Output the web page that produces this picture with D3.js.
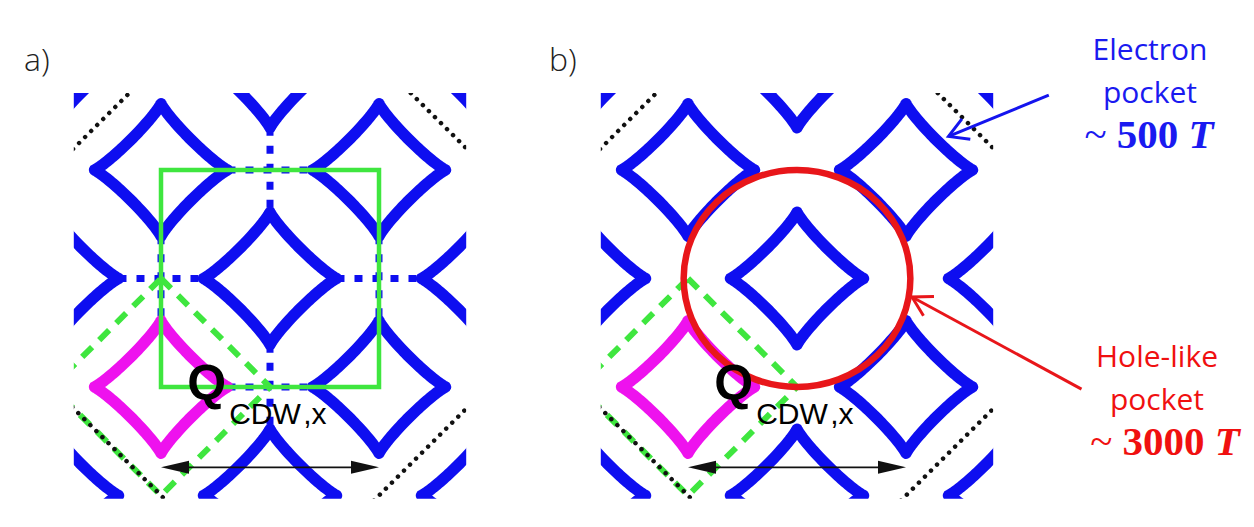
<!DOCTYPE html>
<html><head><meta charset="utf-8">
<script src="https://cdn.jsdelivr.net/npm/d3@7"></script>
<style>body{margin:0;background:#fff}svg{display:block}</style>
</head><body>
<svg id="c" width="1254" height="527"></svg>
<script>
// ---------- data (lattice units: pocket centres on integer sites with u+v even) ----------
const pocketCenters = [[-2,-2],[0,-2],[2,-2],[-1,-1],[1,-1],[-2,0],[0,0],[2,0],[-1,1],[1,1],[-2,2],[0,2],[2,2]];
const highlightedPocket = [-1,1];
const pocketHalfDiagonal = 0.61;
const pocketExponent = 0.88;
const zoneLinks = [[[0,-2],[0,0]],[[0,0],[0,2]],[[-2,0],[0,0]],[[0,0],[2,0]],
                   [[-1,-1],[1,-1]],[[-1,1],[1,1]],[[-1,-1],[-1,1]],[[1,-1],[1,1]]];
const reducedZone = [[-1,-1],[1,1]];
const bzBoundary = [[3,0],[0,3],[-3,0],[0,-3]];
const foldedZone = [[-1,0],[0,1],[-1,2],[-2,1]];
const qVector = {from:-1, to:1, at:1.74};
const holeRadius = [1.04, 1.0];
const viewU = [-1.80, 1.80];
const viewV = [-1.71, 2.03];
const panelLabels = ["a)", "b)"];
const electronLabel = ["Electron", "pocket", "500"];
const holeLabel = ["Hole-like", "pocket", "3000"];
const electronArrow = [[2.31,-1.69],[1.39,-1.31]];
const holeArrow = [[2.61,1.02],[1.055,0.17]];

// ---------- styles ----------
const BLUE = "#0e0ef0", MAGENTA = "#ee12ee", GREEN = "#3fe63f", RED = "#e8161a";
const svg = d3.select("#c");
svg.append("rect").attr("width",1254).attr("height",527).attr("fill","#fff");
const defs = svg.append("defs");

const panels = [
  {label: panelLabels[0], xr:[161,379], labelX:24, square:true, circle:false},
  {label: panelLabels[1], xr:[688,906], labelX:549, square:false, circle:true}
];
const yRange = [170,387];

panels.forEach((p, i) => {
  const xs = d3.scaleLinear().domain([-1,1]).range(p.xr);
  const ys = d3.scaleLinear().domain([-1,1]).range(yRange);
  p.xs = xs; p.ys = ys;
  const clipId = "clip" + i;
  defs.append("clipPath").attr("id", clipId).append("rect")
    .attr("x", xs(viewU[0])).attr("y", ys(viewV[0]))
    .attr("width", xs(viewU[1]) - xs(viewU[0])).attr("height", ys(viewV[1]) - ys(viewV[0]));

  svg.append("text").attr("x", p.labelX).attr("y", 71)
    .attr("font-family", "'Open Sans', sans-serif").attr("font-weight", 300)
    .attr("font-size", 32).attr("fill", "#222").text(p.label);

  const g = svg.append("g").attr("clip-path", `url(#${clipId})`);
  const line = d3.line().x(d => xs(d[0])).y(d => ys(d[1]));

  // blue dotted zone links (panel a only)
  if (p.square) {
    zoneLinks.forEach(([a, b]) => {
      const du = Math.sign(b[0]-a[0]), dv = Math.sign(b[1]-a[1]);
      const r = pocketHalfDiagonal;
      g.append("path")
        .attr("d", line([[a[0]+du*r, a[1]+dv*r],[b[0]-du*r, b[1]-dv*r]]))
        .attr("stroke", BLUE).attr("stroke-width", 7).attr("fill","none")
        .attr("stroke-dasharray", "8,10");
    });
  }

  // pockets
  const e = 2 / pocketExponent;
  const pocketPath = (cu, cv) => {
    const pts = d3.range(0, 360, 1.5).map(deg => {
      const t = deg * Math.PI / 180, c = Math.cos(t), s = Math.sin(t);
      return [cu + pocketHalfDiagonal * Math.sign(c) * Math.pow(Math.abs(c), e),
              cv + pocketHalfDiagonal * Math.sign(s) * Math.pow(Math.abs(s), e)];
    });
    return d3.line().x(d => xs(d[0])).y(d => ys(d[1])).curve(d3.curveLinearClosed)(pts);
  };
  pocketCenters.forEach(([cu, cv]) => {
    const hl = cu === highlightedPocket[0] && cv === highlightedPocket[1];
    g.append("path").attr("d", pocketPath(cu, cv))
      .attr("fill", "none").attr("stroke", hl ? MAGENTA : BLUE)
      .attr("stroke-width", 11.5).attr("stroke-linejoin", "round");
  });

  // green dashed folded zone
  g.append("path").attr("d", line(foldedZone) + "Z")
    .attr("fill","none").attr("stroke", GREEN).attr("stroke-width", 6)
    .attr("stroke-dasharray", "14,10");

  // black dotted BZ boundary
  g.append("path").attr("d", line(bzBoundary) + "Z")
    .attr("fill","none").attr("stroke", "#111").attr("stroke-width", 4.5)
    .attr("stroke-linecap","round").attr("stroke-dasharray", "0.01,8.5");

  // green square
  if (p.square) {
    g.append("rect")
      .attr("x", xs(reducedZone[0][0])).attr("y", ys(reducedZone[0][1]))
      .attr("width", xs(reducedZone[1][0]) - xs(reducedZone[0][0]))
      .attr("height", ys(reducedZone[1][1]) - ys(reducedZone[0][1]))
      .attr("fill","none").attr("stroke", GREEN).attr("stroke-width", 4.5);
  }

  // red hole-like circle
  if (p.circle) {
    svg.append("ellipse").attr("cx", xs(0)).attr("cy", ys(0))
      .attr("rx", xs(holeRadius[0]) - xs(0)).attr("ry", ys(holeRadius[1]) - ys(0))
      .attr("fill","none").attr("stroke", RED).attr("stroke-width", 6.5);
  }

  // Q_CDW double arrow
  const ay = ys(qVector.at), x1 = xs(qVector.from), x2 = xs(qVector.to);
  svg.append("line").attr("x1", x1 + 10).attr("x2", x2 - 10).attr("y1", ay).attr("y2", ay)
    .attr("stroke", "#111").attr("stroke-width", 1.8);
  const hl = 28, hw = 6.5;
  svg.append("path").attr("d", `M${x1},${ay}L${x1+hl},${ay-hw}L${x1+hl},${ay+hw}Z`).attr("fill","#111");
  svg.append("path").attr("d", `M${x2},${ay}L${x2-hl},${ay-hw}L${x2-hl},${ay+hw}Z`).attr("fill","#111");

  // Q label
  const qx = xs(-0.76), qy = ys(1.12);
  svg.append("text").attr("x", qx).attr("y", qy)
    .attr("font-family", "'Liberation Sans', Arial, sans-serif").attr("font-weight","bold")
    .attr("font-size", 50).attr("fill", "#000").text("Q");
  const sub = svg.append("text").attr("x", qx + 42).attr("y", qy + 24)
    .attr("font-family", "'Liberation Sans', Arial, sans-serif")
    .attr("font-size", 30).attr("fill", "#000");
  sub.append("tspan").text("CDW");
  sub.append("tspan").attr("dx", 4).text(",x");
});

// ---------- annotations on the right ----------
const pb = panels[1];
function openArrow(pts, color) {
  const [s, t] = pts.map(d => [pb.xs(d[0]), pb.ys(d[1])]);
  svg.append("line").attr("x1", s[0]).attr("y1", s[1]).attr("x2", t[0]).attr("y2", t[1])
    .attr("stroke", color).attr("stroke-width", 3);
  const ang = Math.atan2(s[1]-t[1], s[0]-t[0]), L = 22, da = Math.PI/6;
  const a1 = [t[0] + L*Math.cos(ang-da), t[1] + L*Math.sin(ang-da)];
  const a2 = [t[0] + L*Math.cos(ang+da), t[1] + L*Math.sin(ang+da)];
  svg.append("path").attr("d", `M${a1}L${t}L${a2}`).attr("fill","none")
    .attr("stroke", color).attr("stroke-width", 3).attr("stroke-linejoin","miter");
}
openArrow(electronArrow, "#1414ee");
openArrow(holeArrow, RED);

function label(lines, cx, cx3, y0, color) {
  [0,1].forEach(k => {
    svg.append("text").attr("x", cx).attr("y", y0 + k*43).attr("text-anchor","middle")
      .attr("font-family", "'Open Sans', sans-serif").attr("font-size", 30)
      .attr("fill", color).text(lines[k]);
  });
  const t = svg.append("text").attr("x", cx3).attr("y", y0 + 88).attr("text-anchor","middle")
    .attr("font-family", "'Liberation Serif', serif").attr("font-size", 41).attr("fill", color);
  t.append("tspan").text("~");
  t.append("tspan").attr("font-weight","bold").text(" " + lines[2]);
  t.append("tspan").attr("font-weight","bold").attr("font-style","italic").text(" T");
}
label(electronLabel, 1150, 1149, 60, "#1a1af0");
label(holeLabel, 1157, 1165, 367, "#f01010");
</script>
</body></html>
